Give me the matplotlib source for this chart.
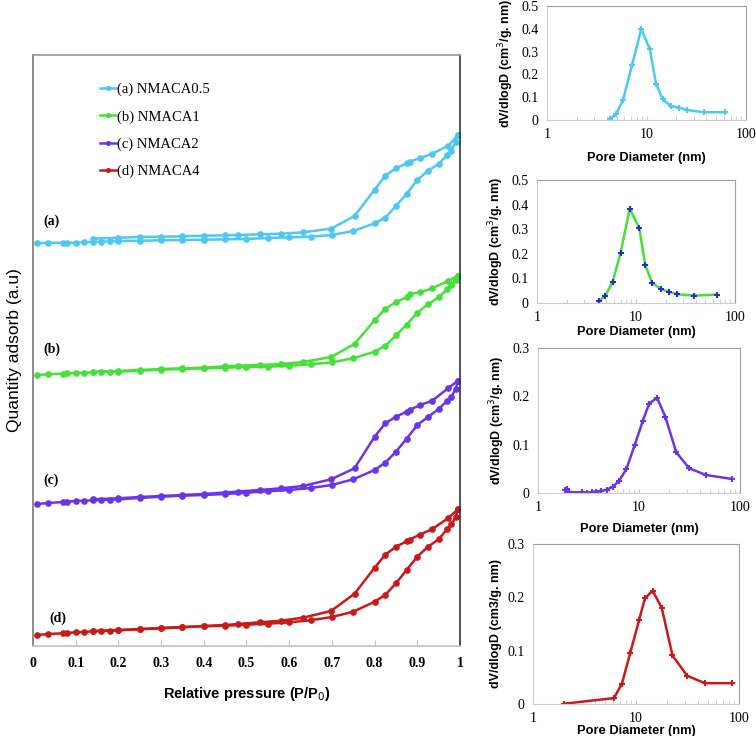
import numpy as np
import matplotlib
matplotlib.use('Agg')
import matplotlib.pyplot as plt
from matplotlib.ticker import LogLocator, NullFormatter

# N2 isotherms (arbitrary units, stacked)
p_ads = [0.01, 0.035, 0.07, 0.08, 0.1, 0.12, 0.14, 0.16, 0.18, 0.2, 0.25, 0.3, 0.35, 0.4, 0.45,
         0.5, 0.55, 0.6, 0.65, 0.7, 0.75, 0.8, 0.825, 0.85, 0.875, 0.9, 0.925, 0.95, 0.97, 0.98, 0.99, 0.995]
p_des = [0.995, 0.973, 0.935, 0.907, 0.882, 0.875, 0.85, 0.825, 0.8, 0.753, 0.698, 0.632, 0.581,
         0.531, 0.48, 0.45, 0.4, 0.35, 0.3, 0.25, 0.2, 0.14]

a_ads = [402.7, 403.3, 403.3, 403.3, 403.3, 403.7, 404, 404.3, 404.7, 405, 405.3, 405.7, 406, 406.3, 406.7,
         407, 408, 408.7, 409.3, 411, 415, 422.7, 428.3, 440, 452.3, 466, 475.3, 482, 491, 495.3, 504.3, 511]
a_des = [511, 500.3, 492.3, 488, 484.3, 482.7, 477.7, 470.3, 456.3, 430, 417.3, 413.7, 412.3, 411.7, 411,
         410.7, 410.3, 409.7, 409.3, 409, 408.3, 407.3]
b_ads = [271, 271.7, 272.3, 272.7, 273, 273.3, 273.7, 274, 274.3, 274.3, 275.3, 276.3, 277, 277.7, 278.3,
         279, 279.3, 280.3, 281.7, 283.7, 287.7, 294.3, 300, 310.7, 321.3, 333.3, 341.7, 348.7, 356.7, 360.7, 366, 370.3]
b_des = [370.3, 365.3, 357.7, 353.7, 352, 348.7, 344, 337, 325.7, 302, 289, 284, 282, 281, 280.3,
         279.7, 278.3, 277.7, 277, 276, 275, 274.3]
c_ads = [142, 143, 144, 144.3, 145, 145.3, 145.7, 146, 146.3, 146.7, 148, 149.3, 150.3, 151, 152,
         153.3, 154.7, 156, 158, 161, 166.7, 176, 183.3, 194.3, 207.3, 221, 229, 237, 245.3, 249.3, 257, 265.3]
c_des = [265.3, 258, 245.3, 241, 236, 234.3, 229.3, 222.7, 209.3, 177.7, 166.7, 160, 157.7, 156, 154.5,
         153.5, 152, 151, 150, 149, 147.7, 146.7]
d_ads = [11, 12, 12.7, 13, 13.7, 14, 14.7, 15, 15.3, 15.7, 16.7, 17.7, 18.7, 19.7, 20.3,
         21.3, 22.3, 23.7, 25.7, 29, 34.3, 44.3, 51, 62.7, 76, 89.3, 99.3, 106.7, 117, 121.7, 128.7, 136.7]
d_des = [136.7, 128, 117, 111.5, 106.5, 104.7, 99.3, 91.3, 78.3, 52.3, 35, 28.3, 25.3, 23.7, 22,
         21, 20, 19, 18, 17, 16, 15]

names = ['(a) NMACA0.5', '(b) NMACA1', '(c) NMACA2', '(d) NMACA4']
colors = ['#4cc8f2', '#45e03a', '#6a35e8', '#c81a1a']

# pore size distributions
psd1_d = [4.26, 4.94, 5.8, 7.15, 8.87, 10.8, 12.45, 14.6, 17.6, 21.4, 25.5, 37.6, 62]
psd1_v = [0.003, 0.026, 0.087, 0.24, 0.40, 0.31, 0.16, 0.09, 0.061, 0.054, 0.044, 0.034, 0.034]
psd2_d = [4.21, 4.91, 5.82, 7.01, 8.63, 10.8, 12.4, 14.5, 17.7, 21.5, 25.9, 38.4, 65.9]
psd2_v = [0.007, 0.030, 0.087, 0.205, 0.384, 0.304, 0.155, 0.083, 0.057, 0.046, 0.036, 0.030, 0.034]
psd3_d = [1.87, 1.95, 2.03, 2.73, 3.06, 3.41, 3.79, 4.25, 4.8, 5.5, 6.35, 7.52, 9.09, 10.9, 12.6,
          15.1, 18.2, 23.4, 31.5, 46.4, 84]
psd3_v = [0.0068, 0.009, 0.002, 0.0014, 0.0007, 0.002, 0.003, 0.004, 0.007, 0.013, 0.025, 0.05, 0.10,
          0.149, 0.185, 0.197, 0.158, 0.084, 0.051, 0.037, 0.029]
psd4_d = [2.02, 6.1, 7.3, 8.8, 10.7, 12.2, 14.5, 17.8, 22.6, 31.4, 46.7, 85]
psd4_v = [0.0006, 0.011, 0.038, 0.096, 0.157, 0.198, 0.2125, 0.18, 0.091, 0.053, 0.039, 0.039]

W, H = 756, 736
fig = plt.figure(figsize=(W / 100, H / 100), dpi=100)

def box(l, t, r, b):
    return [l / W, (H - b) / H, (r - l) / W, (b - t) / H]

serif = 'Liberation Serif'
sans = 'Liberation Sans'

# main isotherm panel
ax = fig.add_axes(box(33, 55, 460, 646))
series = [(a_ads, a_des), (b_ads, b_des), (c_ads, c_des), (d_ads, d_des)]
for (ya, yd), c, n in zip(series, colors, names):
    ax.plot(p_ads, ya, '-o', color=c, lw=1.8, ms=3.8, label=n)
    ax.plot(p_des, yd, '-o', color=c, lw=1.8, ms=3.8)
ax.set_xlim(0, 1)
ax.set_ylim(0, 591)
ax.set_xticks(np.arange(0, 1.01, 0.1))
ax.set_xticklabels(['0', '0.1', '0.2', '0.3', '0.4', '0.5', '0.6', '0.7', '0.8', '0.9', '1'],
                   fontfamily=serif, fontweight='bold', fontsize=10)
ax.set_yticks([])
ax.tick_params(axis='x', direction='in', length=4, color='#c0c0c0', pad=8)
ax.spines['top'].set_color('#9a9a9a')
ax.spines['right'].set_color('#333333')
ax.spines['left'].set_color('#777777')
ax.spines['bottom'].set_color('#c0c0c0')
for s in ax.spines.values():
    s.set_linewidth(1.2)
ax.set_xlabel('Relative pressure (P/P$_0$)', fontfamily=sans, fontweight='bold', fontsize=10.5, labelpad=11)
ax.set_ylabel('Quantity adsorb (a.u)', fontfamily=sans, fontsize=12.5, labelpad=8)
for lab, x, y in [('(a)', 0.024, 418), ('(b)', 0.024, 290), ('(c)', 0.024, 159), ('(d)', 0.038, 21)]:
    ax.text(x, y, lab, fontfamily=serif, fontweight='bold', fontsize=10, va='bottom')
leg = ax.legend(loc='upper left', bbox_to_anchor=(0.125, 0.975), frameon=False,
                prop={'family': serif, 'size': 10.5}, handlelength=1.1, handletextpad=0.1,
                labelspacing=0.95, markerscale=0.7)

# pore size distribution panels
panels = [
    (box(547, 6, 746, 120), psd1_d, psd1_v, colors[0], colors[0], 0.5, 'dV/dlogD (cm$^3$/g. nm)', 8),
    (box(537, 180, 735, 303), psd2_d, psd2_v, colors[1], '#2a2ad0', 0.5, 'dV/dlogD (cm$^3$/g. nm)', 1),
    (box(538, 348, 740, 493), psd3_d, psd3_v, colors[2], colors[2], 0.3, 'dV/dlogD (cm$^3$/g. nm)', 6),
    (box(533, 544, 739, 704), psd4_d, psd4_v, colors[3], colors[3], 0.3, 'dV/dlogD (cm3/g. nm)', 0),
]
for rect, xd, yv, lc, mc, ymax, ylab, xpad in panels:
    a = fig.add_axes(rect)
    a.plot(xd, yv, '-', color=lc, lw=1.8, marker='+', ms=4, mew=1.5, mec=mc)
    a.set_xscale('log')
    a.set_xlim(1, 100)
    a.set_ylim(0, ymax)
    a.set_xticks([1, 10, 100])
    a.set_xticklabels(['1', '10', '100'], fontfamily=serif, fontsize=10)
    a.xaxis.set_minor_locator(LogLocator(base=10, subs=np.arange(2, 10)))
    a.xaxis.set_minor_formatter(NullFormatter())
    yt = np.round(np.arange(0, ymax + 1e-9, 0.1), 2)
    a.set_yticks(yt)
    a.set_yticklabels(['0' if v == 0 else f'{v:g}' for v in yt], fontfamily=serif, fontsize=10)
    a.tick_params(axis='x', which='both', direction='in', color='#c8c8c8', length=3, pad=6)
    a.tick_params(axis='y', length=0, pad=6)
    a.spines['top'].set_color('#a0a0a0')
    a.spines['right'].set_color('#a0a0a0')
    a.spines['left'].set_color('#cccccc')
    a.spines['bottom'].set_color('#cccccc')
    a.set_xlabel('Pore Diameter (nm)', fontfamily=sans, fontweight='bold', fontsize=9.3, labelpad=xpad)
    a.set_ylabel(ylab, fontfamily=sans, fontweight='bold', fontsize=9, labelpad=4)

fig.savefig('out.png', dpi=100)
